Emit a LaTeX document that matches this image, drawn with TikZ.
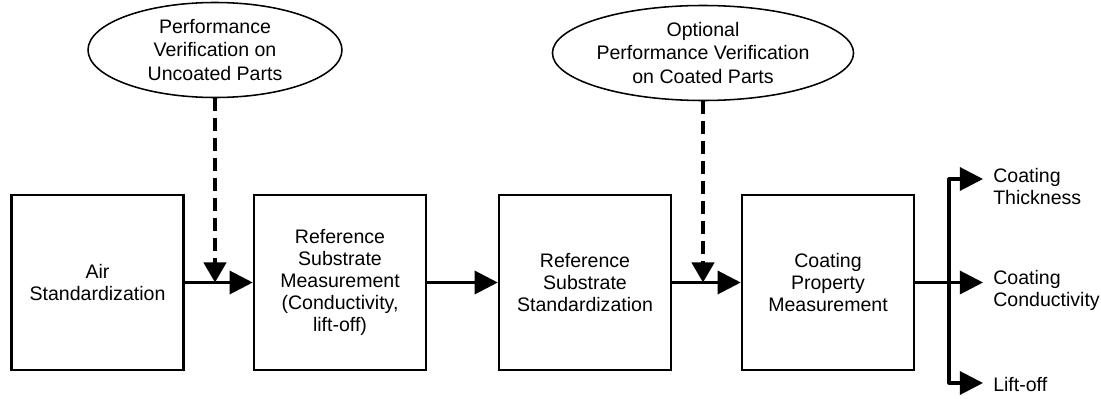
\documentclass[tikz,border=0pt]{standalone}
\usepackage{fontspec}
\setmainfont{Liberation Sans}
\usetikzlibrary{arrows.meta,shapes.geometric}

\def\px{0.025}

\begin{document}
\begin{tikzpicture}[
  my box/.style={draw,line width=1.8pt,minimum width=172*\px cm,minimum height=175*\px cm,
    align=center,inner sep=0pt,font=\fontsize{13.9}{15.8}\selectfont},
  my oval/.style={draw,ellipse,line width=1.1pt,minimum width=254*\px cm,minimum height=95*\px cm,
    align=center,inner sep=0pt,font=\fontsize{13.9}{16.5}\selectfont},
  my flow/.style={line width=2.2pt,line join=round,-{Triangle[length=0.58cm,width=0.58cm]}},
  my dash/.style={line width=3pt,dash pattern=on 0.32cm off 0.18cm,-{Triangle[length=0.5cm,width=0.55cm]}},
  my label/.style={anchor=north west,align=left,inner sep=0pt,font=\fontsize{13.9}{15.8}\selectfont}]
\useasboundingbox (0,0) rectangle (1101*\px,398*\px);
\node[my box] (air)      at ( 97.5*\px,115.5*\px) {Air\\Standardization};
\node[my box] (refmeas)  at (340  *\px,115.5*\px) {Reference\\Substrate\\Measurement\\(Conductivity,\\lift-off)};
\node[my box] (refstd)   at (585  *\px,115.5*\px) {Reference\\Substrate\\Standardization};
\node[my box] (coatmeas) at (828  *\px,115.5*\px) {Coating\\Property\\Measurement};
\node[my oval] (verunc) at (215*\px,348*\px) {Performance\\Verification on\\Uncoated Parts};
\node[my oval] (veropt) at (703*\px,345*\px) {Optional\\Performance Verification\\on Coated Parts};
\coordinate (fork) at (949*\px,115.5*\px);
\coordinate (o1) at (983*\px,219*\px);
\coordinate (o2) at (983*\px,115.5*\px);
\coordinate (o3) at (983*\px, 15*\px);
\node[my label] (thick) at (993*\px,230*\px) {Coating\\Thickness};
\node[my label] (cond)  at (993*\px,128*\px) {Coating\\Conductivity};
\node[my label] (lift)  at (993*\px, 21*\px) {Lift-off};
\draw[my flow] (air) -- (refmeas);
\draw[my flow] (refmeas) -- (refstd);
\draw[my flow] (refstd) -- (coatmeas);
\draw[my flow] (coatmeas) -- (o2);
\draw[my flow] (fork) |- (o1);
\draw[my flow] (fork) |- (o3);
\draw[my dash] (verunc) -- (verunc |- air.east);
\draw[my dash] (veropt) -- (veropt |- refstd.east);
\end{tikzpicture}
\end{document}
